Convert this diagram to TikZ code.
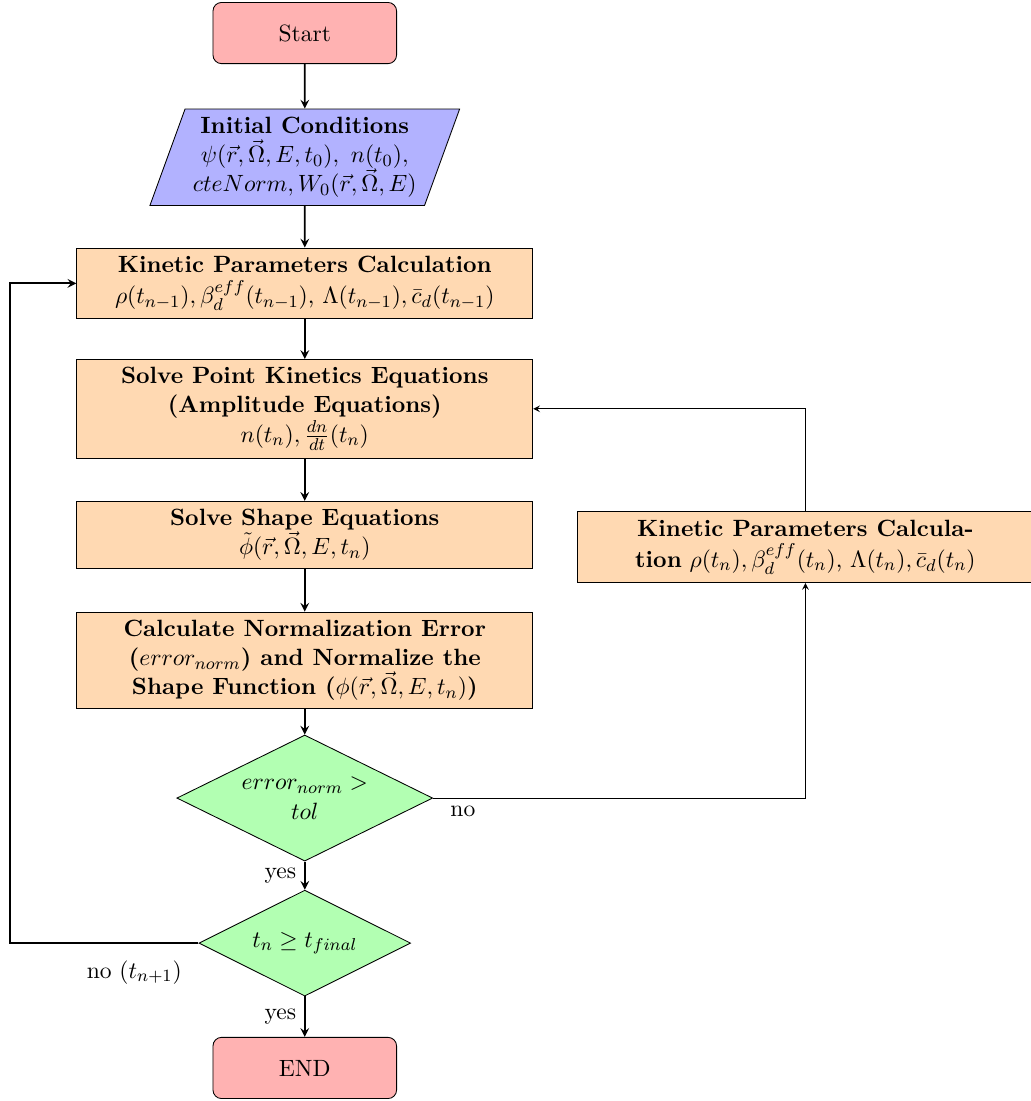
\documentclass[tikz,border=0pt,11pt]{standalone}
\usepackage{tikz}
\usetikzlibrary{shapes,arrows,positioning,calc}

\tikzset{
    startstop/.style={rectangle, rounded corners, minimum width=3cm, minimum height=1cm, align=center, draw=black, fill=red!30},
    io/.style={trapezium, trapezium left angle=70, trapezium right angle=110, minimum width=3cm, minimum height=1cm, align=center, draw=black, fill=blue!30},
    process/.style={rectangle, minimum width=7.45cm, minimum height=1cm, align=center, draw=black, fill=orange!30},
    decision/.style={diamond, aspect=2, inner sep=0pt, align=center, draw=black, fill=green!30},
    arrow/.style={thick,->,>=stealth},
    thinarrow/.style={->,>=stealth}
}

\begin{document}
\begin{tikzpicture}
    \useasboundingbox (-4.98,0.54) rectangle (11.866,-17.45);

    \node[startstop] (start) at (0,0) {Start};
    \node[io] (init) at (0,-2.03) {\textbf{Initial Conditions}\\$\psi(\vec{r},\vec{\Omega},E,t_0),~n(t_0),$\\$cteNorm,W_0(\vec{r},\vec{\Omega},E)$};
    \node[process] (kinA) at (0,-4.09) {\textbf{Kinetic Parameters Calculation}\\[1pt]$\rho(t_{n-1}),\beta_d^{eff}(t_{n-1})$, $\Lambda(t_{n-1}),\bar{c}_d(t_{n-1})$};
    \node[process] (pke) at (0,-6.14) {\textbf{Solve Point Kinetics Equations}\\\textbf{(Amplitude Equations)}\\$n(t_n),\frac{dn}{dt}(t_n)$};
    \node[process] (shape) at (0,-8.20) {\textbf{Solve Shape Equations}\\$\tilde{\phi}(\vec{r},\vec{\Omega},E,t_n)$};
    \node[process] (norm) at (0,-10.25) {\textbf{Calculate Normalization Error}\\\textbf{($error_{norm}$) and Normalize the}\\\textbf{Shape Function ($\phi(\vec{r},\vec{\Omega},E,t_n)$)}};
    \node[decision, minimum width=4.18cm, minimum height=2.06cm] (errdec) at (0,-12.50) {$error_{norm}>$\\$tol$};
    \node[decision, minimum width=3.46cm, minimum height=1.73cm] (timedec) at (0,-14.87) {$t_n\geq t_{final}$};
    \node[startstop] (stop) at (0,-16.91) {END};
    \node[process] (kinB) at (8.18,-8.40) {\textbf{Kinetic Parameters Calcula-}\\[1pt]\textbf{tion} $\rho(t_n),\beta_d^{eff}(t_n)$, $\Lambda(t_n),\bar{c}_d(t_n)$};
    \coordinate (loop) at (-4.82,-14.87);

    % main line
    \draw[arrow] (start) -- (init);
    \draw[arrow] (init) -- (kinA);
    \draw[arrow] (kinA) -- (pke);
    \draw[arrow] (pke) -- (shape);
    \draw[arrow] (shape) -- (norm);
    \draw[arrow] (norm) -- (errdec);
    \draw[arrow] (errdec) -- node[anchor=east] {yes} (timedec);
    \draw[arrow] (timedec) -- node[anchor=east] {yes} (stop);

    % loops
    \draw[thinarrow] (errdec.east) -| node[pos=0.04, below] {no} (kinB.south);
    \draw[thinarrow] (kinB.north) |- (pke.east);
    \draw[arrow] (timedec.west) -- node[pos=0.34, below=4pt] {no ($t_{n+1}$)} (loop) |- (kinA.west);
\end{tikzpicture}
\end{document}
